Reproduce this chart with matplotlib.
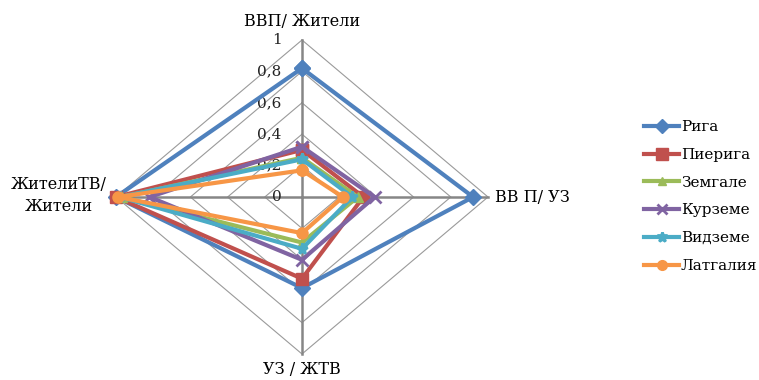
import numpy as np
import matplotlib
matplotlib.use("Agg")
import matplotlib.pyplot as plt
from matplotlib.lines import Line2D

# ---- data ----
categories = ["ВВП/ Жители", "ВВ П/ УЗ", "УЗ / ЖТВ", "ЖителиТВ/\nЖители"]
series_names = ["Рига", "Пиерига", "Земгале", "Курземе", "Видземе", "Латгалия"]
riga = [0.82, 0.92, 0.58, 1.00]
pieriga = [0.30, 0.33, 0.52, 1.00]
zemgale = [0.25, 0.30, 0.29, 0.97]
kurzeme = [0.32, 0.39, 0.40, 0.82]
vidzeme = [0.24, 0.27, 0.33, 0.98]
latgale = [0.17, 0.22, 0.23, 0.99]
series_values = [riga, pieriga, zemgale, kurzeme, vidzeme, latgale]
tick_values = [0, 0.2, 0.4, 0.6, 0.8, 1.0]
tick_labels = ["0", "0,2", "0,4", "0,6", "0,8", "1"]

# ---- styles ----
colors = ["#4F81BD", "#C0504D", "#9BBB59", "#8064A2", "#4BACC6", "#F79646"]
markers = ["D", "s", "^", "x", "*", "o"]
msizes = [8, 9, 7, 8, 8, 8]

plt.rcParams['font.family'] = ['DejaVu Serif']

W, H = 759, 380
fig = plt.figure(figsize=(W / 100, H / 100), dpi=100)
cx, cy = 302, 197
sx, sy = 186, 157
xl, yl = 1.2, 1.15
ax = fig.add_axes([(cx - xl * sx) / W, (H - cy - yl * sy) / H,
                   2 * xl * sx / W, 2 * yl * sy / H])
ax.set_xlim(-xl, xl)
ax.set_ylim(-yl, yl)
ax.axis('off')

n = len(categories)
angles = np.pi / 2 - np.arange(n) * 2 * np.pi / n
ux, uy = np.cos(angles), np.sin(angles)

# grid polygons
for t in tick_values[1:]:
    px = np.append(ux * t, ux[0] * t)
    py = np.append(uy * t, uy[0] * t)
    ax.plot(px, py, color="#9A9A9A", lw=0.8, zorder=1, clip_on=False)
# spokes
for i in range(n):
    ax.plot([0, ux[i]], [0, uy[i]], color="#868686", lw=1.8, zorder=1.5, clip_on=False)

# series
for vals, c, m, ms in zip(series_values, colors, markers, msizes):
    v = np.array(vals)
    px = np.append(ux * v, ux[0] * v[0])
    py = np.append(uy * v, uy[0] * v[0])
    ax.plot(px, py, color=c, lw=3.0, marker=m, ms=ms, mew=2 if m in "x*" else 1,
            mec=c, mfc=c, zorder=3, clip_on=False)

# tick labels
for t, lab in zip(tick_values, tick_labels):
    ax.text(-0.11, t, lab, ha='right', va='center', fontsize=11,
            color="#222222", zorder=2)

# category labels
lab_kw = dict(fontsize=11.5, color="#000000")
ax.text(0, 1.12, categories[0], ha='center', va='center', **lab_kw)
ax.text(1.04, 0, categories[1], ha='left', va='center', **lab_kw)
ax.text(0, -1.10, categories[2], ha='center', va='center', **lab_kw)
ax.text(-1.31, 0.01, categories[3], ha='center', va='center',
        linespacing=1.35, **lab_kw)

# legend
handles = [Line2D([0], [0], color=c, lw=3.0, marker=m, ms=ms - 1, mec=c, mfc=c,
                  mew=2 if m in "x*" else 1)
           for c, m, ms in zip(colors, markers, msizes)]
fig.legend(handles, series_names, loc='upper left',
           bbox_to_anchor=(638 / W, 1 - 114 / H), frameon=False,
           handlelength=2.3, handletextpad=0.1,
           labelspacing=0.9, borderaxespad=0,
           prop={'family': ['DejaVu Serif'], 'size': 11})

fig.savefig("out.png", dpi=100)
